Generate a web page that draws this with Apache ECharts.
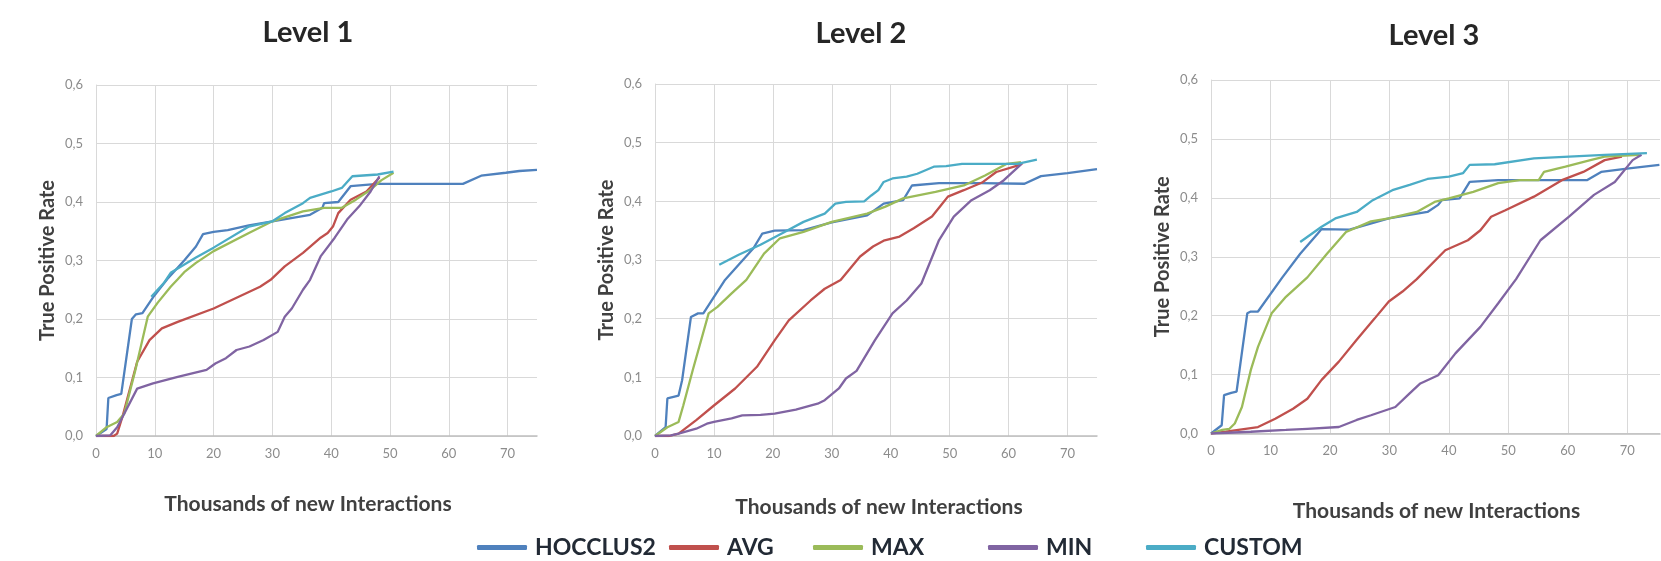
<!DOCTYPE html>
<html>
<head>
<meta charset="utf-8">
<script src="https://cdn.jsdelivr.net/npm/echarts@6/dist/echarts.min.js"></script>
<style>
html,body{margin:0;padding:0;background:#fff;}
#chart{width:1661px;height:561px;}
</style>
</head>
<body>
<div id="chart"></div>
<script>
// ---------- data (x = thousands of new interactions, y = true positive rate) ----------
const seriesNames = ['HOCCLUS2', 'AVG', 'MAX', 'MIN', 'CUSTOM'];
const levelTitles = ['Level 1', 'Level 2', 'Level 3'];
const xTickLabels = ['0', '10', '20', '30', '40', '50', '60', '70'];
const yTickLabels = ['0,0', '0,1', '0,2', '0,3', '0,4', '0,5', '0,6'];

// Level 1
const l1Hocclus2 = [[0,0],[1.8,0.012],[2.1,0.065],[3.5,0.07],[4.3,0.072],[6.1,0.2],[6.8,0.208],[7.9,0.21],[9.7,0.237],[12.1,0.268],[15,0.3],[17,0.324],[18.2,0.345],[20,0.349],[22.4,0.352],[26,0.36],[30,0.367],[36.4,0.378],[38.5,0.39],[38.8,0.398],[41.2,0.4],[43.3,0.427],[47.9,0.431],[55,0.431],[62.4,0.431],[65.5,0.445],[69.7,0.45],[72,0.453],[75,0.455]];
const l1Avg = [[0,0],[3,0],[3.6,0.004],[4.5,0.033],[7,0.127],[9.1,0.164],[11.2,0.184],[13.9,0.195],[20,0.218],[27.9,0.255],[29.7,0.267],[32.1,0.29],[35.2,0.313],[38.2,0.339],[39.4,0.347],[40.3,0.358],[41.2,0.381],[43.3,0.404],[46,0.418],[48.2,0.442]];
const l1Max = [[0,0],[1.8,0.015],[3.6,0.024],[4.8,0.038],[6.7,0.113],[8.8,0.204],[10.5,0.228],[12.7,0.255],[13.9,0.268],[15,0.28],[17,0.296],[20,0.316],[26,0.347],[30,0.367],[35.2,0.384],[38.8,0.39],[41.8,0.39],[44.2,0.404],[46.7,0.421],[48.5,0.437],[50.6,0.45]];
const l1Min = [[0,0],[2.4,0.001],[3.6,0.015],[4.8,0.038],[7,0.081],[9.7,0.09],[13.9,0.101],[18.8,0.113],[20.3,0.124],[22.1,0.133],[23.9,0.147],[26.1,0.153],[28.5,0.164],[30.9,0.178],[32.1,0.204],[33.3,0.218],[35.2,0.25],[36.4,0.267],[38.2,0.307],[40.6,0.339],[42.7,0.37],[44.8,0.393],[46.7,0.418],[48.2,0.444]];
const l1Custom = [[9.4,0.238],[11.5,0.261],[12.7,0.279],[17,0.305],[20,0.322],[26,0.358],[30,0.367],[32.1,0.381],[35.2,0.398],[36.4,0.407],[40,0.418],[41.8,0.424],[43.6,0.444],[47.9,0.447],[50.6,0.452]];

// Level 2
const l2Hocclus2 = [[0,0],[1.8,0.015],[2.1,0.064],[4,0.069],[4.6,0.095],[6.1,0.203],[7.3,0.209],[8.2,0.209],[11.8,0.265],[16.7,0.32],[18.2,0.345],[20.3,0.35],[25.2,0.351],[30,0.364],[36,0.376],[38.8,0.396],[42.1,0.402],[43.6,0.427],[48.2,0.431],[55,0.431],[62.7,0.43],[65.5,0.443],[70,0.448],[75,0.455]];
const l2Avg = [[0,0],[2.4,0],[4,0.004],[7,0.027],[10,0.052],[13.6,0.081],[17.3,0.118],[20.3,0.163],[22.7,0.197],[26.4,0.231],[28.8,0.251],[31.5,0.266],[34.8,0.306],[37,0.323],[38.8,0.333],[41.5,0.34],[43.9,0.354],[47,0.374],[48.5,0.393],[49.7,0.408],[52.4,0.419],[55.5,0.432],[57.9,0.45],[61.5,0.461],[62.4,0.465]];
const l2Max = [[0,0],[2.1,0.015],[4,0.024],[4.8,0.052],[6.4,0.112],[9.1,0.209],[10.6,0.22],[13,0.243],[15.5,0.266],[18.5,0.311],[21.2,0.337],[25.2,0.348],[30,0.365],[36,0.379],[39.1,0.391],[42.1,0.405],[47.6,0.416],[52.4,0.427],[56,0.444],[59.7,0.464],[62.1,0.467]];
const l2Min = [[0,0],[2.7,0.001],[4,0.004],[7,0.0125],[8.8,0.021],[10,0.024],[13,0.03],[14.8,0.035],[17.9,0.036],[20.3,0.038],[23.9,0.045],[27.6,0.055],[28.8,0.061],[31.2,0.081],[32.4,0.098],[34.2,0.111],[37.3,0.163],[40.3,0.209],[42.7,0.231],[45.2,0.26],[48.2,0.334],[50.7,0.374],[53.7,0.402],[56.8,0.419],[59.2,0.436],[62.2,0.464]];
const l2Custom = [[10.9,0.292],[14.2,0.309],[17.9,0.326],[21.5,0.345],[25.2,0.365],[28.8,0.379],[30.6,0.396],[32.4,0.399],[35.5,0.4],[36.7,0.41],[37.9,0.419],[38.8,0.433],[40.3,0.439],[42.7,0.442],[44.5,0.447],[47.3,0.459],[49.4,0.46],[52.1,0.464],[61.5,0.464],[64.8,0.471]];

// Level 3
const l3Hocclus2 = [[0,0],[1.8,0.014],[2.2,0.065],[3.4,0.069],[4.3,0.071],[6.1,0.204],[6.7,0.207],[7.9,0.207],[12,0.265],[15,0.305],[18,0.34],[18.6,0.347],[23.3,0.346],[29.9,0.365],[36.4,0.376],[38.2,0.388],[38.8,0.396],[41.8,0.399],[43.5,0.427],[48.3,0.43],[63.2,0.43],[65.6,0.444],[70.3,0.45],[75.4,0.456]];
const l3Avg = [[0,0],[2.5,0.003],[7.9,0.011],[10.8,0.025],[13.8,0.042],[16.2,0.059],[18.6,0.091],[21.5,0.122],[24.5,0.159],[27.5,0.195],[29.9,0.224],[32.2,0.241],[34.6,0.262],[39.4,0.311],[43.2,0.328],[45.3,0.345],[47.1,0.368],[49.5,0.379],[54.3,0.402],[59,0.43],[62.6,0.444],[66.2,0.464],[69.1,0.47]];
const l3Max = [[0,0],[1.9,0.006],[3.1,0.008],[4,0.017],[5.2,0.045],[6.7,0.108],[7.9,0.147],[10.2,0.204],[12.6,0.232],[16.2,0.265],[19.5,0.305],[22.7,0.342],[26.9,0.36],[29.9,0.365],[34.6,0.376],[37.6,0.393],[40,0.399],[44.1,0.41],[48.3,0.425],[51.9,0.43],[55.1,0.43],[56,0.444],[59.6,0.453],[63.8,0.464],[66.2,0.47],[72.1,0.473]];
const l3Min = [[0,0],[6.7,0.003],[12.6,0.006],[16.2,0.008],[21.5,0.011],[24.5,0.023],[26.9,0.031],[31,0.045],[33.4,0.068],[35.2,0.085],[38.2,0.099],[41.1,0.136],[45.3,0.181],[48.3,0.221],[51.3,0.262],[55.4,0.328],[60.2,0.368],[64.4,0.405],[67.9,0.427],[70.9,0.464],[72.4,0.473]];
const l3Custom = [[15,0.325],[18.6,0.351],[20.9,0.365],[24.5,0.376],[27.2,0.396],[30.5,0.413],[33.4,0.422],[36.4,0.432],[40,0.436],[42.4,0.442],[43.5,0.456],[47.7,0.457],[54.3,0.467],[60.2,0.47],[66.2,0.473],[73.3,0.476]];

const levelData = [
  [l1Hocclus2, l1Avg, l1Max, l1Min, l1Custom],
  [l2Hocclus2, l2Avg, l2Max, l2Min, l2Custom],
  [l3Hocclus2, l3Avg, l3Max, l3Min, l3Custom]
];

// ---------- styling / layout ----------
const colors = ['#4F81BD', '#C0504D', '#9BBB59', '#8064A2', '#4BACC6'];
const FONT = 'Lato, "Open Sans", sans-serif';
const grids = [
  {left: 96, top: 85, width: 441, height: 351},
  {left: 655, top: 84, width: 442, height: 352},
  {left: 1211, top: 80, width: 449, height: 353.5}
];
const xMax = [75, 75, 75.5];
const titlePos = [[308, 18], [861, 19], [1434, 21]];
const xNameGap = [58, 61, 67];
const xNamePad = [[0, 17, 0, 0], [0, 0, 0, 6], [0, 0, 0, 2]];
const legendLeft = [477, 669, 813, 988, 1146];

const chart = echarts.init(document.getElementById('chart'), null, {renderer: 'canvas'});

const option = {
  animation: false,
  backgroundColor: '#ffffff',
  textStyle: {fontFamily: FONT},
  title: levelTitles.map((t, i) => ({
    text: t,
    left: titlePos[i][0],
    top: titlePos[i][1],
    textAlign: 'center',
    padding: 0,
    textStyle: {fontFamily: FONT, fontSize: 29, fontWeight: 'bold', color: '#262626'}
  })),
  legend: seriesNames.map((n, i) => ({
    data: [n],
    left: legendLeft[i],
    top: 536,
    padding: 0,
    icon: 'roundRect',
    itemWidth: 50,
    itemHeight: 5,
    selectedMode: false,
    textStyle: {fontFamily: FONT, fontSize: 23, fontWeight: 'bold', color: '#222a35', padding: [0, 0, 0, 3]}
  })),
  grid: grids.map(g => Object.assign({containLabel: false}, g)),
  xAxis: grids.map((g, i) => ({
    type: 'value',
    gridIndex: i,
    min: 0,
    max: xMax[i],
    interval: 10,
    name: 'Thousands of new Interactions',
    nameLocation: 'middle',
    nameGap: xNameGap[i],
    nameTextStyle: {fontFamily: FONT, fontSize: 21, fontWeight: 'bold', color: '#404040', padding: xNamePad[i]},
    axisLine: {show: true, lineStyle: {color: '#bfbfbf', width: 1.5}},
    axisTick: {show: false},
    axisLabel: {
      margin: 11,
      color: '#8c8c8c',
      fontSize: 13,
      fontFamily: FONT,
      showMaxLabel: false,
      formatter: (v, idx) => (xTickLabels[idx] !== undefined ? xTickLabels[idx] : '')
    },
    splitLine: {show: true, showMaxLine: false, lineStyle: {color: '#d9d9d9', width: 1}}
  })),
  yAxis: grids.map((g, i) => ({
    type: 'value',
    gridIndex: i,
    min: 0,
    max: 0.6,
    interval: 0.1,
    name: 'True Positive Rate',
    nameLocation: 'middle',
    nameGap: 38,
    nameTextStyle: {fontFamily: FONT, fontSize: 20, fontWeight: 'bold', color: '#404040'},
    axisLine: {show: true, lineStyle: {color: '#d9d9d9', width: 1}},
    axisTick: {show: false},
    axisLabel: {
      margin: 13,
      color: '#8c8c8c',
      fontSize: 13,
      fontFamily: FONT,
      formatter: (v, idx) => yTickLabels[idx]
    },
    splitLine: {show: true, lineStyle: {color: '#d9d9d9', width: 1}}
  })),
  series: []
};

levelData.forEach((set, li) => {
  set.forEach((data, si) => {
    option.series.push({
      type: 'line',
      name: seriesNames[si],
      xAxisIndex: li,
      yAxisIndex: li,
      data: data,
      showSymbol: false,
      symbol: 'none',
      smooth: false,
      color: colors[si],
      lineStyle: {color: colors[si], width: 2.3},
      emphasis: {disabled: true}
    });
  });
});

chart.setOption(option);
</script>
</body>
</html>
